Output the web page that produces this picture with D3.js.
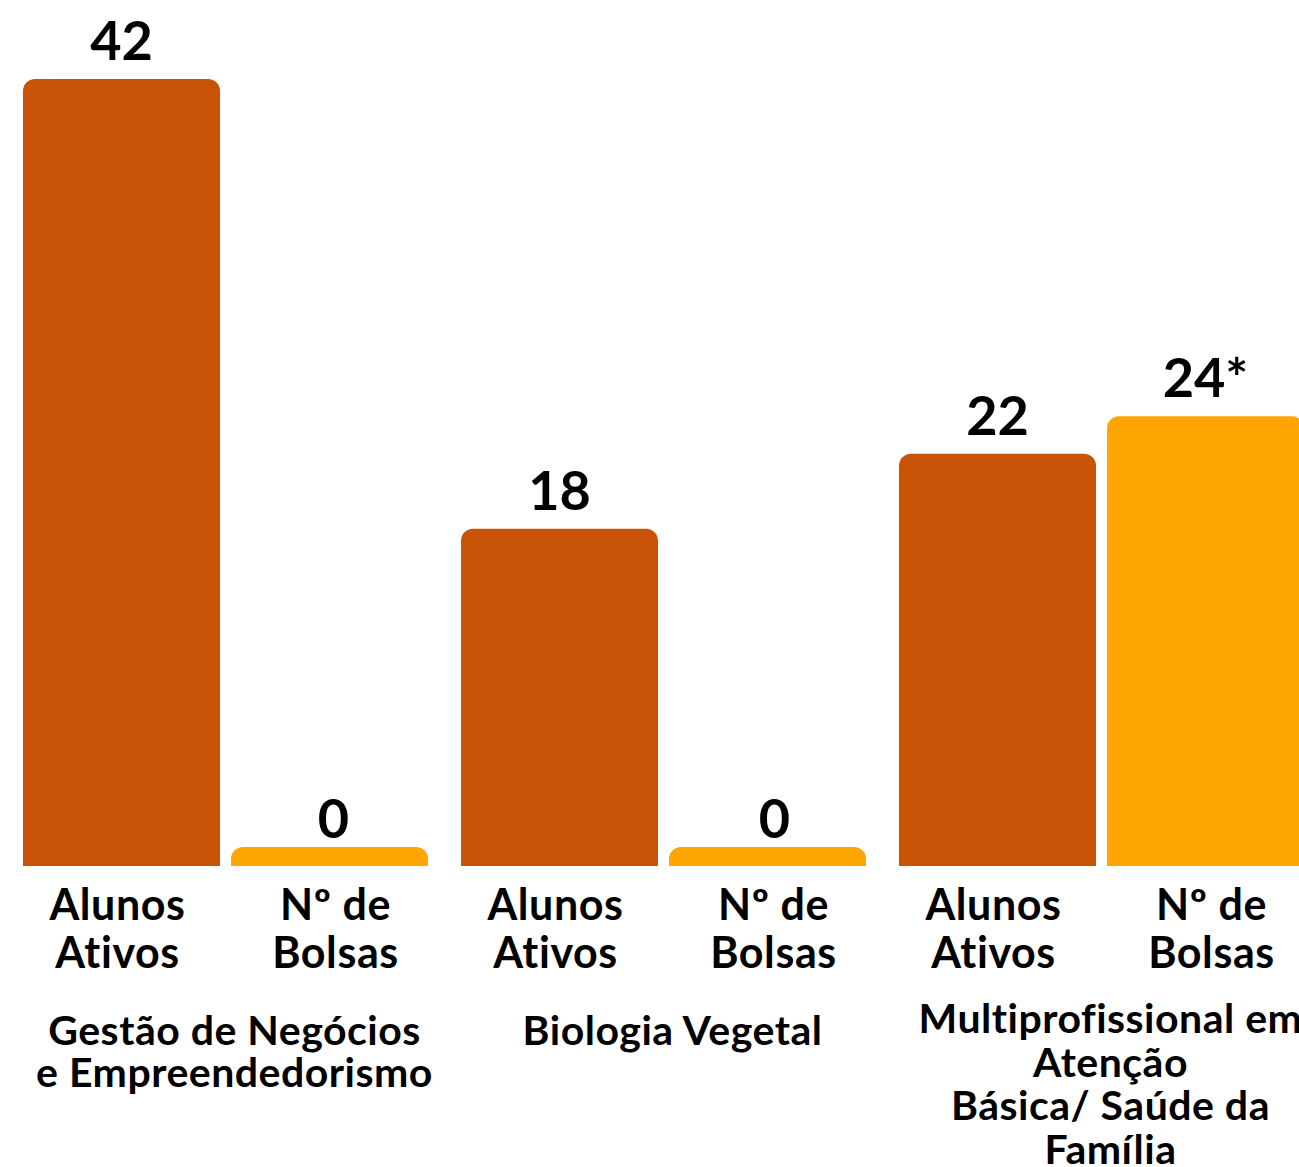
<!DOCTYPE html>
<html>
<head>
<meta charset="utf-8">
<script src="https://cdn.jsdelivr.net/npm/d3@7"></script>
<style>
  html, body { margin: 0; padding: 0; background: #fff; overflow: hidden; }
  svg { display: block; }
  text { font-family: Lato, "Open Sans", sans-serif; font-weight: 700; fill: #000; }
</style>
</head>
<body>
<svg id="chart" width="1299" height="1167"></svg>
<script>
// ---- data ----
const groups = ["Gestão de Negócios e Empreendedorismo", "Biologia Vegetal", "Multiprofissional em Atenção Básica/ Saúde da Família"];
const groupLabelLines = [
  ["Gestão de Negócios", "e Empreendedorismo"],
  ["Biologia Vegetal"],
  ["Multiprofissional em", "Atenção", "Básica/ Saúde da", "Família"]
];
const series = ["Alunos Ativos", "Nº de Bolsas"];
const seriesLabelLines = [["Alunos", "Ativos"], ["Nº de", "Bolsas"]];
const alunosAtivos = [42, 18, 22];
const numBolsas = [0, 0, 24];
const valueLabels = [["42", "18", "22"], ["0", "0", "24*"]];
const colors = ["#C85206", "#FFA602"];

// ---- layout ----
const svg = d3.select("#chart");
const baseY = 866;
const y = d3.scaleLinear().domain([0, 42]).range([baseY, 79]);
const x0 = d3.scaleBand().domain(groups).range([23, 23 + 3 * 438]).padding(0);
const x1 = d3.scaleBand().domain(series).range([0, 405]).paddingInner(11 / 208).paddingOuter(0);
const radius = 12;
const stubH = 19;

const values = [alunosAtivos, numBolsas];
const data = [];
groups.forEach((g, gi) => {
  series.forEach((s, si) => {
    data.push({ g, gi, s, si, v: values[si][gi], label: valueLabels[si][gi] });
  });
});

function topRounded(x, yTop, w, h, r) {
  r = Math.min(r, h, w / 2);
  return `M${x},${yTop + h}` +
    `V${yTop + r}` +
    `A${r},${r} 0 0 1 ${x + r},${yTop}` +
    `H${x + w - r}` +
    `A${r},${r} 0 0 1 ${x + w},${yTop + r}` +
    `V${yTop + h}Z`;
}

const bars = svg.append("g");
bars.selectAll("path")
  .data(data)
  .join("path")
  .attr("fill", d => colors[d.si])
  .attr("d", d => {
    const bx = x0(d.g) + x1(d.s);
    const top = Math.min(y(d.v), baseY - stubH);
    return topRounded(bx, top, x1.bandwidth(), baseY - top, radius);
  });

// value labels
svg.append("g").selectAll("text")
  .data(data)
  .join("text")
  .attr("x", d => x0(d.g) + x1(d.s) + x1.bandwidth() / 2 + (d.v === 0 ? 4 + d.gi * 3 : 0))
  .attr("y", d => Math.min(y(d.v), baseY - 9) - 19)
  .attr("text-anchor", "middle")
  .style("font-size", "54px")
  .text(d => d.label);

// series (category) labels
const seriesDx = [-4, 6];
const catG = svg.append("g");
data.forEach(d => {
  const cx = x0(d.g) + x1(d.s) + x1.bandwidth() / 2 + seriesDx[d.si];
  const t = catG.append("text")
    .attr("text-anchor", "middle")
    .style("font-size", "43px")
    .style("letter-spacing", "0.6px");
  seriesLabelLines[d.si].forEach((ln, i) => {
    t.append("tspan").attr("x", cx).attr("y", 920 + i * 48).text(ln);
  });
});

// group labels
const grpG = svg.append("g");
groups.forEach((g, gi) => {
  const cx = x0(g) + 405 / 2 + 9;
  const lines = groupLabelLines[gi];
  const first = lines.length > 2 ? 1033 : 1045;
  const lh = lines.length > 2 ? 43.5 : 42;
  const t = grpG.append("text")
    .attr("text-anchor", "middle")
    .style("font-size", "41px")
    .style("letter-spacing", "0.5px");
  lines.forEach((ln, i) => {
    t.append("tspan").attr("x", cx).attr("y", first + i * lh).text(ln);
  });
});
</script>
</body>
</html>
